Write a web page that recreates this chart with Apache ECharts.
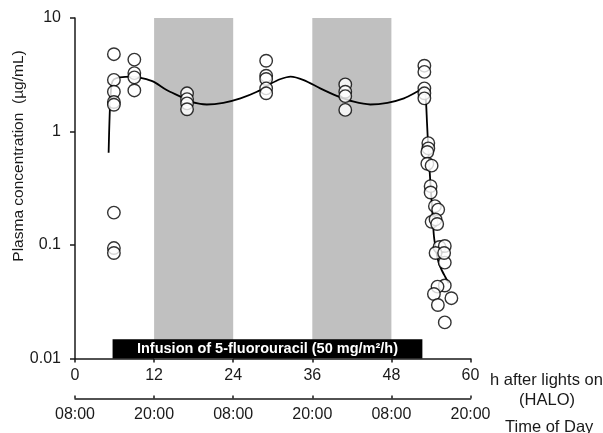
<!DOCTYPE html>
<html>
<head>
<meta charset="utf-8">
<title>5-FU plasma concentration</title>
<script src="https://cdn.jsdelivr.net/npm/echarts@6/dist/echarts.min.js"></script>
<style>
    html, body { margin: 0; padding: 0; background: #fff; }
    #chart { width: 603px; height: 433px; }
</style>
</head>
<body>
<div id="chart"></div>
<script>
// axis ticks
var hourTicks = [0, 12, 24, 36, 48, 60];
var clockLabels = ['08:00', '20:00', '08:00', '20:00', '08:00', '20:00'];
var concLabels = ['0.01', '0.1', '1', '10'];

// dark phases and infusion window (h after lights on)
var darkPhases = [[12, 24], [36, 48]];
var infusion = [5.7, 52.7];

// measured samples
var sampleHours = [
    5.9, 5.9, 5.9, 5.9, 5.9, 5.9, 5.9, 5.9,
    9.0, 9.0, 9.0, 9.0,
    17.0, 17.0, 17.0, 17.0,
    29.0, 29.0, 29.0, 29.0, 29.0,
    41.0, 41.0, 41.0, 41.0,
    53.0, 53.0, 53.0, 53.0, 53.0,
    53.6, 53.6, 53.45, 53.45, 54.1, 53.95, 53.95, 54.6, 55.1, 54.1,
    54.7, 54.95, 55.3, 56.1, 56.1, 54.7, 56.0, 56.1, 55.0, 54.45,
    57.1, 55.05, 56.1
];
var sampleConc = [
    4.8, 2.85, 2.24, 1.82, 1.72, 0.193, 0.094, 0.085,
    4.3, 3.27, 3.0, 2.3,
    2.17, 1.93, 1.77, 1.57,
    4.2, 3.1, 2.9, 2.4, 2.17,
    2.6, 2.24, 2.05, 1.55,
    3.8, 3.35, 2.4, 2.17, 1.96,
    0.79, 0.71, 0.66, 0.52, 0.5, 0.33, 0.29, 0.22, 0.205, 0.16,
    0.168, 0.153, 0.096, 0.098, 0.07, 0.085, 0.085, 0.044, 0.043, 0.037,
    0.034, 0.0296, 0.0208
];

// fitted model curve
var fitHours = [
    5.1, 5.3, 5.55, 5.9, 6.8, 8.7, 10.3, 11.9, 13.9, 16.0, 17.5, 20.0,
    22.5, 25.1, 27.6, 29.6, 31.2, 32.7, 34.7, 37.2, 39.8, 42.3, 44.8,
    47.4, 49.9, 51.9, 52.9, 53.2, 53.4, 53.6, 53.8, 54.0, 54.2, 54.45,
    54.8, 55.2, 55.7, 56.2, 56.7
];
var fitConc = [
    0.65, 1.6, 2.6, 2.88, 3.0, 3.04, 2.94, 2.75, 2.32, 2.03, 1.83, 1.73,
    1.79, 1.96, 2.24, 2.62, 2.9, 3.05, 2.84, 2.4, 2.05, 1.83, 1.73,
    1.79, 1.96, 2.24, 2.42, 2.0, 1.2, 0.7, 0.45, 0.3, 0.2, 0.12,
    0.088, 0.069, 0.059, 0.052, 0.046
];

var FONT = '"Liberation Sans", Arial, sans-serif';
var INK = '#1a1a1a';

var samples = sampleHours.map(function (h, i) { return [h, sampleConc[i]]; });
var fit = fitHours.map(function (h, i) { return [h, fitConc[i]]; });

var myChart = echarts.init(document.getElementById('chart'));

var option = {
    animation: false,
    textStyle: { fontFamily: FONT, color: INK },
    grid: { left: 75, right: 132.5, top: 18, bottom: 74.5 },
    xAxis: [
        {
            type: 'value',
            min: 0,
            max: 60,
            interval: 12,
            axisLine: { lineStyle: { color: INK, width: 1.5 } },
            axisTick: { length: 4, lineStyle: { color: INK, width: 1.5 } },
            axisLabel: { fontSize: 16, color: INK, margin: 9, fontFamily: FONT },
            splitLine: { show: false }
        },
        {
            type: 'value',
            position: 'bottom',
            offset: 40,
            min: 0,
            max: 60,
            interval: 12,
            axisLine: { onZero: false, lineStyle: { color: INK, width: 1.5 } },
            axisTick: { inside: true, length: 3, lineStyle: { color: INK, width: 1.5 } },
            axisLabel: {
                fontSize: 16, color: INK, margin: 8, fontFamily: FONT,
                formatter: function (v) { return clockLabels[hourTicks.indexOf(v)]; }
            },
            splitLine: { show: false }
        }
    ],
    yAxis: {
        type: 'log',
        logBase: 10,
        min: 0.01,
        max: 10,
        axisLine: { show: true, lineStyle: { color: INK, width: 1.5 } },
        axisTick: { show: true, length: 5, lineStyle: { color: INK, width: 1.5 } },
        minorTick: { show: false },
        axisLabel: {
            fontSize: 16, color: INK, margin: 14, fontFamily: FONT,
            formatter: function (v) { return concLabels[Math.round(Math.log10(v)) + 2]; }
        },
        splitLine: { show: false }
    },
    graphic: [
        {
            type: 'text', x: 19, y: 156, rotation: Math.PI / 2,
            style: { text: 'Plasma concentration  (\u00b5g/mL)', font: '15.5px ' + FONT, fill: INK, align: 'center', verticalAlign: 'middle' }
        },
        {
            type: 'text', x: 490, y: 380,
            style: { text: 'h after lights on', font: '16.5px ' + FONT, fill: INK, align: 'left', verticalAlign: 'middle' }
        },
        {
            type: 'text', x: 547, y: 400,
            style: { text: '(HALO)', font: '16.5px ' + FONT, fill: INK, align: 'center', verticalAlign: 'middle' }
        },
        {
            type: 'text', x: 505, y: 427,
            style: { text: 'Time of Day', font: '16.5px ' + FONT, fill: INK, align: 'left', verticalAlign: 'middle' }
        }
    ],
    series: [
        {
            // background shading for dark phases
            type: 'line',
            data: [],
            z: 1,
            markArea: {
                silent: true,
                data: darkPhases.map(function (p) {
                    return [
                        { xAxis: p[0], itemStyle: { color: '#c0c0c0' } },
                        { xAxis: p[1] }
                    ];
                })
            }
        },
        {
            // infusion bar on the axis
            type: 'line',
            data: [],
            z: 2,
            markArea: {
                silent: true,
                data: [[
                    {
                        xAxis: infusion[0], yAxis: 0.01,
                        itemStyle: { color: '#000' },
                        label: {
                            show: true, position: 'inside',
                            formatter: 'Infusion of 5-fluorouracil (50 mg/m\u00b2/h)',
                            color: '#fff', fontWeight: 'bold', fontSize: 14.5, fontFamily: FONT
                        }
                    },
                    { xAxis: infusion[1], yAxis: 0.0148 }
                ]]
            }
        },
        {
            name: 'fit',
            type: 'line',
            data: fit,
            z: 3,
            smooth: 0.3,
            symbol: 'none',
            lineStyle: { color: '#000', width: 1.8 }
        },
        {
            name: 'samples',
            type: 'scatter',
            data: samples,
            z: 4,
            symbol: 'circle',
            symbolSize: 12.5,
            itemStyle: { color: '#fff', borderColor: '#000', borderWidth: 1.4 }
        }
    ]
};

myChart.setOption(option);
</script>
</body>
</html>
